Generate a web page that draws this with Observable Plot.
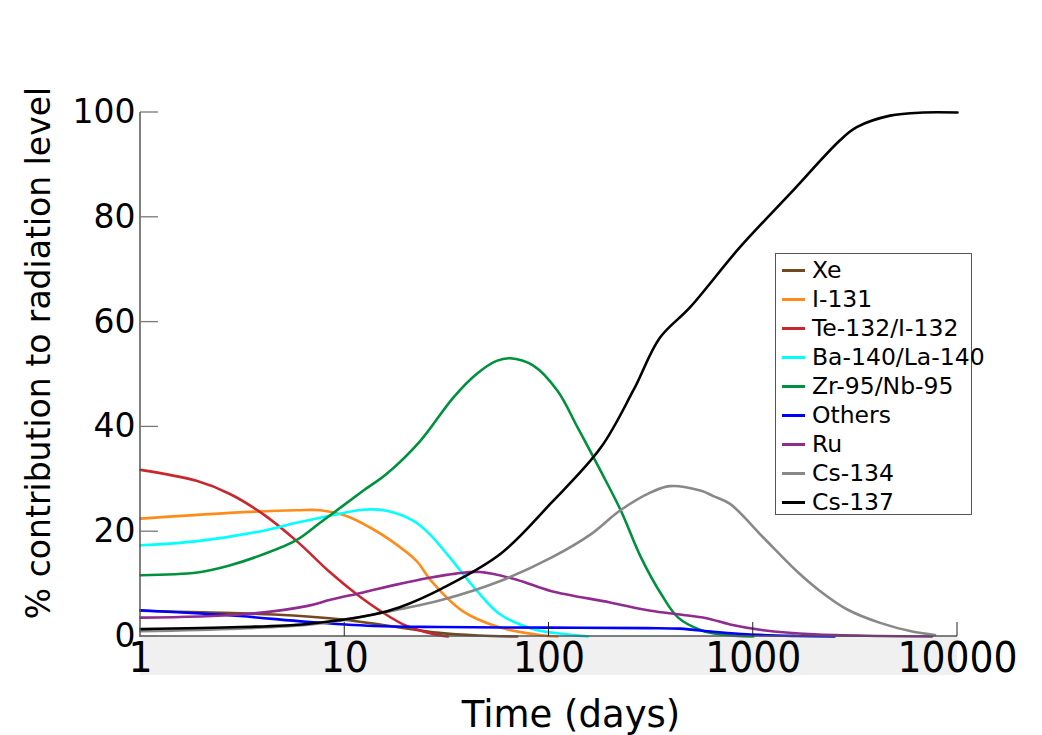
<!DOCTYPE html>
<html><head><meta charset="utf-8">
<script src="https://cdn.jsdelivr.net/npm/d3@7"></script>
<script src="https://cdn.jsdelivr.net/npm/@observablehq/plot@0.6"></script>
<style>
body{margin:0;background:#fff;}
#wrap{position:relative;width:1042px;height:735px;overflow:hidden;}
#legend{position:absolute;left:775px;top:253px;width:197px;height:262px;border:1px solid #555;background:#fff;box-sizing:border-box;font-family:"DejaVu Sans",sans-serif;font-size:23.5px;color:#000;}
.row{position:absolute;left:6px;height:29px;display:flex;align-items:center;white-space:nowrap;}
.sw{width:23px;height:3px;margin-right:7px;}
</style></head><body><div id="wrap"></div>
<script>
// Series names and colours
const seriesNames = ["Xe","I-131","Te-132/I-132","Ba-140/La-140","Zr-95/Nb-95","Others","Ru","Cs-134","Cs-137"];
const seriesColors = ["#75491f","#ff8c1a","#c8282d","#00ffff","#00913f","#0000ff","#902b8f","#888888","#000000"];

// [time (days), % contribution]
const xe = [[1,4.9],[2,4.6],[4.5,4.2],[9.5,3.3],[16.6,2.0],[29,0.7],[45,0.2],[70,0]];
const i131 = [[1,22.5],[2.74,23.6],[5.82,24.1],[7.6,24.1],[10.2,23.0],[13.3,20.8],[17,18.2],[22.5,14.4],[26.5,10.6],[37.6,4.9],[57.8,1.7],[90,0.3],[110,0]];
const te132 = [[1,31.8],[1.88,29.7],[2.74,27.2],[4,23.3],[5.82,18.2],[8.5,12.2],[11.4,8.1],[14.9,4.9],[20.1,2.0],[27,0.5],[32,0]];
const ba140 = [[1,17.4],[1.9,18.2],[4,20.2],[5.8,21.7],[9.1,23.3],[12.3,24.2],[16,24.0],[21.6,22.1],[26.1,19.5],[32.8,15],[44.4,8.7],[57.8,4.2],[84,1.4],[122,0.4],[155,0]];
const zr95 = [[1,11.7],[1.9,12.2],[2.7,13.5],[4,15.7],[5.8,18.4],[7.57,21.7],[12.3,27.8],[16,31.0],[23.4,37.3],[34,45.6],[44.2,50.1],[55.4,52.6],[64.4,53.1],[83.8,51.7],[110,46.9],[138,39.9],[179,31.6],[225,24],[282,15.1],[354,8.1],[429,3.6],[556,1.2],[700,0.4],[1000,0]];
const others = [[1,5.0],[3.07,3.9],[6.5,2.8],[13.8,2.0],[29,1.8],[100,1.7],[300,1.6],[438,1.5],[637,0.9],[930,0.4],[1630,0.1],[2500,0]];
const ru = [[1,3.6],[3.07,4.2],[6.5,5.8],[8.5,7.0],[12.3,8.4],[17.9,9.9],[26,11.2],[35,12.0],[46,12.3],[70,10.8],[102,8.7],[199,6.5],[315,4.9],[438,4.2],[590,3.5],[770,2.3],[1120,1.2],[1980,0.4],[4180,0.1],[7500,0]];
const cs134 = [[1,1.0],[3,1.5],[6.5,2.2],[9.5,3.0],[18.6,5.2],[30,7.0],[57.8,10.6],[102,15],[160,19.5],[222,24],[315,27.5],[390,28.7],[556,27.8],[637,26.8],[770,25.3],[1120,18.9],[1630,12.5],[2120,8.7],[2870,5.2],[4180,2.6],[6080,0.9],[7760,0.3]];
const cs137 = [[1,1.4],[3.07,1.8],[6.5,2.4],[13.8,4.2],[18.6,5.6],[30,9.2],[58,15.8],[102,25.4],[179,36],[259,47],[349,57],[490,62.8],[861,74.3],[1515,84.5],[2660,94.7],[3210,97.2],[4680,99.4],[6800,100],[10000,100]];
const seriesData = [xe,i131,te132,ba140,zr95,others,ru,cs134,cs137];

// Axis ticks
const xTicks = [1,10,100,1000,10000];
const yTicks = [0,20,40,60,80,100];

const rows = seriesData.flatMap((arr, k) => arr.map(([t, v]) => ({series: seriesNames[k], t, v})));

const chart = Plot.plot({
  width: 1042, height: 735,
  marginLeft: 140, marginRight: 85, marginTop: 112, marginBottom: 99,
  style: {background: "transparent", fontFamily: "DejaVu Sans", color: "#000"},
  x: {type: "log", domain: [1, 10000]},
  y: {domain: [0, 100]},
  color: {domain: seriesNames, range: seriesColors},
  marks: [
    Plot.axisY(yTicks, {tickSize: 0, tickPadding: 5, fontSize: 33, label: null, fill: "#000"}),
    Plot.axisX(xTicks, {tickSize: 0, tickPadding: 6, fontSize: 42, label: null, tickFormat: d => String(d), fontFamily: "DejaVu Sans Condensed", fontStretch: "condensed", fill: "#000"}),
    Plot.line(rows, {x: "t", y: "v", z: "series", stroke: "series", curve: "catmull-rom", strokeWidth: 2.6})
  ]
});

const sx = chart.scale("x"), sy = chart.scale("y");
const svg = d3.select(chart);
const x0 = sx.apply(1), x1 = sx.apply(10000), y0 = sy.apply(0), yTop = sy.apply(100);
// grey band under x axis
svg.insert("rect", "g").attr("x", x0).attr("y", y0).attr("width", x1 - x0).attr("height", 39).attr("fill", "#f0f0f0");
// axis lines & ticks
const ax = svg.append("g");
ax.append("line").attr("x1", x0).attr("x2", x0).attr("y1", yTop).attr("y2", y0 + 1).attr("stroke", "#555").attr("stroke-width", 1.5);
ax.append("line").attr("x1", x0).attr("x2", x1).attr("y1", y0).attr("y2", y0).attr("stroke", "#555").attr("stroke-width", 1.5);
yTicks.forEach(v => ax.append("line").attr("x1", x0).attr("x2", x0 + 18).attr("y1", sy.apply(v)).attr("y2", sy.apply(v)).attr("stroke", "#777").attr("stroke-width", 1.3));
xTicks.slice(1).forEach(v => ax.append("line").attr("x1", sx.apply(v)).attr("x2", sx.apply(v)).attr("y1", y0).attr("y2", y0 - 14).attr("stroke", "#222").attr("stroke-width", 1));
// axis titles
svg.append("text").text("Time (days)").attr("x", 571).attr("y", 727).attr("text-anchor", "middle")
  .attr("font-family", "DejaVu Sans").attr("font-size", 37).attr("fill", "#000");
svg.append("text").text("% contribution to radiation level").attr("transform", "translate(50,353) rotate(-90)").attr("text-anchor", "middle")
  .attr("font-family", "DejaVu Sans").attr("font-size", 33).attr("fill", "#000");

const wrap = document.getElementById("wrap");
wrap.appendChild(chart);

// legend
const legend = document.createElement("div");
legend.id = "legend";
seriesNames.forEach((name, i) => {
  const r = document.createElement("div");
  r.className = "row";
  r.style.top = (1.5 + 29 * i) + "px";
  const sw = document.createElement("span");
  sw.className = "sw";
  sw.style.background = seriesColors[i];
  const tx = document.createElement("span");
  tx.textContent = name;
  r.appendChild(sw); r.appendChild(tx);
  legend.appendChild(r);
});
wrap.appendChild(legend);
</script>
</body></html>
